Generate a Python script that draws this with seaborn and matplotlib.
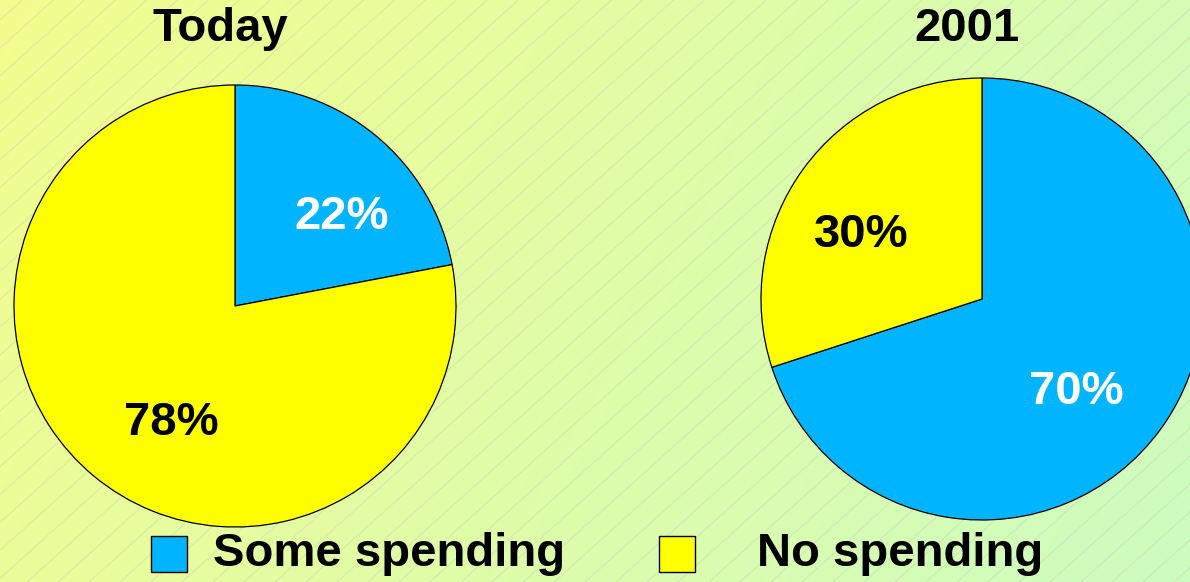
import numpy as np
import matplotlib
matplotlib.use("Agg")
import matplotlib.pyplot as plt
from matplotlib.patches import Rectangle
import seaborn as sns

# ---- data ----
categories = ["Some spending", "No spending"]
titles = ["Today", "2001"]
today_values = [22, 78]
y2001_values = [70, 30]
label_texts_today = ["22%", "78%"]
label_texts_2001 = ["70%", "30%"]

sns.set_theme(style="white")
plt.rcParams['font.family'] = ['Liberation Sans', 'DejaVu Sans']

W, H = 1190, 582
fig = plt.figure(figsize=(W / 100, H / 100), dpi=100)

# ---- background gradient with diagonal lines ----
bg = fig.add_axes([0, 0, 1, 1])
bg.set_xlim(0, W)
bg.set_ylim(0, H)
bg.axis("off")
xx, yy = np.meshgrid(np.linspace(0, 1, 300), np.linspace(0, 1, 150))  # yy=0 top
t = np.clip(0.78 * xx + 0.22 * yy, 0, 1)
c0 = np.array([243, 252, 142]) / 255
c1 = np.array([205, 253, 192]) / 255
img = c0[None, None, :] * (1 - t[..., None]) + c1[None, None, :] * t[..., None]
bg.imshow(img, extent=[0, W, 0, H], origin="upper", aspect="auto", zorder=0)
ang = np.deg2rad(42)
run = H / np.tan(ang)
for c in np.arange(-int(run) - 40, W + 40, 31):
    bg.plot([c, c + run], [0, H], color=(0.78, 0.80, 0.74), lw=0.6, alpha=0.5, zorder=1)

blue = "#00B4FF"
yellow = "#FFFF00"
colors = [blue, yellow]

def pie_axes(cx, cy, r):
    left = (cx - r) / W
    bottom = (H - cy - r) / H
    ax = fig.add_axes([left, bottom, 2 * r / W, 2 * r / H])
    return ax

def finish(ax):
    ax.set_xlim(-1, 1)
    ax.set_ylim(-1, 1)
    ax.axis("off")

ax1 = pie_axes(235, 306, 221)
ax1.pie(today_values, colors=colors, startangle=90, counterclock=False, radius=1,
        wedgeprops=dict(edgecolor="black", linewidth=0.9))
finish(ax1)
ax2 = pie_axes(982, 299, 221)
ax2.pie(y2001_values, colors=colors, startangle=90, counterclock=False, radius=1,
        wedgeprops=dict(edgecolor="black", linewidth=0.9))
finish(ax2)

fs = 34
def put(ax, ang_deg, dist, txt, col):
    a = np.deg2rad(ang_deg)
    ax.text(dist * np.cos(a), dist * np.sin(a), txt, ha="center", va="center",
            fontsize=fs, fontweight="bold", color=col)

put(ax1, 40, 0.63, label_texts_today[0], "white")
put(ax1, 241.5, 0.60, label_texts_today[1], "black")
put(ax2, -44.4, 0.60, label_texts_2001[0], "white")
put(ax2, 152, 0.62, label_texts_2001[1], "black")

fig.text(220 / W, 1 - 29 / H, titles[0], ha="center", va="center",
         fontsize=fs, fontweight="bold", color="black")
fig.text(967 / W, 1 - 29 / H, titles[1], ha="center", va="center",
         fontsize=fs, fontweight="bold", color="black")

# ---- legend ----
leg_y = 554
sq = 36
for (x_sq, x_txt), lab, col in zip([(151, 213), (659, 757)], categories, colors):
    fig.patches.append(Rectangle((x_sq / W, (H - leg_y - sq / 2) / H), sq / W, sq / H,
                                 transform=fig.transFigure, facecolor=col,
                                 edgecolor="black", linewidth=1.0))
    fig.text(x_txt / W, 1 - leg_y / H, lab, ha="left", va="center",
             fontsize=fs, fontweight="bold", color="black")

fig.savefig("out.png", dpi=100)
